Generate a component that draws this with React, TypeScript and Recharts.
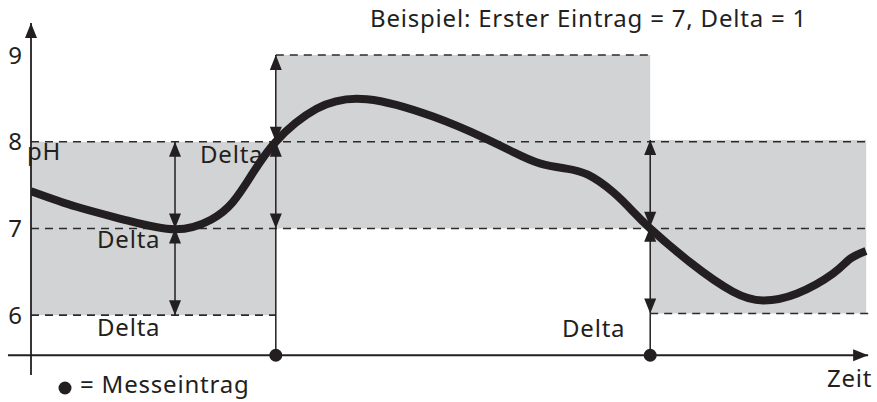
import React from "react";
import { ComposedChart, Line, Scatter, XAxis, YAxis, ReferenceArea, ReferenceLine } from "recharts";

// pH curve (time in arbitrary units)
const curveTime = [0, 1.9, 3.9, 6.0, 7.5, 8.4, 9.2, 10.2, 11.9, 14.0, 16.75, 18.83, 20.1, 21.2, 22.3, 23.2, 24.25, 25.1, 25.8, 27.46, 29.25, 30.5, 31.92, 33.42, 34.13, 34.79];
const curvePh = [7.43, 7.25, 7.1, 6.99, 7.1, 7.3, 7.62, 8.0, 8.38, 8.49, 8.29, 8.05, 7.88, 7.75, 7.69, 7.62, 7.42, 7.19, 7.0, 6.61, 6.27, 6.17, 6.25, 6.48, 6.65, 6.74];

// measurement entries, each opens a band of +/- delta
const entryTime = [0, 10.2, 25.8];
const entryPh = [7, 8, 7.02];
const delta = 1;
const endTime = 34.8;
const arrowTime = [6, 10.2, 25.8];

const phTicks = [6, 7, 8, 9];
const guidePh = [9, 8, 7, 6, 6.02];
const guideFrom = [10.2, 0, 0, 0, 25.8];
const guideTo = [25.9, 35, 35, 10.2, 35];

const X_DOMAIN: [number, number] = [0, 35];
const Y_DOMAIN: [number, number] = [5.31, 9.369];
const AXIS_PH = 5.538;

const INK = "#231f20";
const GREY = "#d1d3d4";
const FONT = "'Noto Sans', sans-serif";

const curveData = curveTime.map((t, i) => ({ t, ph: curvePh[i] }));
const dotData = entryTime.slice(1).map((t) => ({ t, ph: AXIS_PH }));

function head(tx: number, ty: number, fx: number, fy: number) {
  const dx = tx - fx;
  const dy = ty - fy;
  const len = Math.hypot(dx, dy) || 1;
  const ux = dx / len;
  const uy = dy / len;
  const bx = tx - ux * 15;
  const by = ty - uy * 15;
  return `${tx},${ty} ${bx - uy * 6},${by + ux * 6} ${bx + uy * 6},${by - ux * 6}`;
}

const arrowShape = (start: boolean, end: boolean, w = 1.5) => (p: any) => (
  <g>
    <line x1={p.x1} y1={p.y1} x2={p.x2} y2={p.y2} stroke={INK} strokeWidth={w} />
    {start && <polygon points={head(p.x1, p.y1, p.x2, p.y2)} fill={INK} />}
    {end && <polygon points={head(p.x2, p.y2, p.x1, p.y1)} fill={INK} />}
  </g>
);

const txt = { fontFamily: FONT, fontSize: 24, fill: INK, letterSpacing: 0.8 } as const;

export default function App() {
  return (
    <div style={{ position: "absolute", left: 0, top: 0, width: 877, height: 402, background: "#fff" }}>
      <ComposedChart width={877} height={402} data={curveData} margin={{ top: 23, right: 6, bottom: 27, left: 0 }}>
        <XAxis type="number" dataKey="t" domain={X_DOMAIN} hide allowDataOverflow />
        <YAxis
          type="number"
          domain={Y_DOMAIN}
          ticks={phTicks}
          allowDataOverflow
          axisLine={false}
          tickLine={false}
          tickSize={0}
          tickMargin={9}
          width={31}
          tick={{ fontSize: 24, fill: INK, fontFamily: FONT }}
        />
        {entryTime.map((t, i) => (
          <ReferenceArea
            key={`band-${i}`}
            x1={t}
            x2={entryTime[i + 1] ?? endTime}
            y1={entryPh[i] - delta}
            y2={entryPh[i] + delta}
            fill={GREY}
            fillOpacity={1}
            stroke="none"
          />
        ))}
        {guidePh.map((ph, i) => (
          <ReferenceLine
            key={`guide-${i}`}
            segment={[{ x: guideFrom[i], y: ph }, { x: guideTo[i], y: ph }]}
            stroke="#2b2b2b"
            strokeWidth={1.6}
            strokeDasharray="8 6"
          />
        ))}
        {entryPh.map((ph, i) => (
          <ReferenceLine
            key={`up-${i}`}
            segment={[{ x: arrowTime[i], y: ph }, { x: arrowTime[i], y: ph + delta }]}
            shape={arrowShape(true, true)}
          />
        ))}
        {entryPh.map((ph, i) => (
          <ReferenceLine
            key={`down-${i}`}
            segment={[{ x: arrowTime[i], y: ph }, { x: arrowTime[i], y: ph - delta }]}
            shape={arrowShape(true, true)}
          />
        ))}
        {entryTime.slice(1).map((t, i) => (
          <ReferenceLine
            key={`stem-${i}`}
            segment={[{ x: t, y: AXIS_PH }, { x: t, y: entryPh[i + 1] - delta }]}
            shape={arrowShape(false, false)}
          />
        ))}
        <ReferenceLine
          segment={[{ x: 0, y: Y_DOMAIN[0] }, { x: 0, y: Y_DOMAIN[1] }]}
          ifOverflow="visible"
          shape={arrowShape(false, true, 1.8)}
        />
        <ReferenceLine
          segment={[{ x: -0.96, y: AXIS_PH }, { x: 34.88, y: AXIS_PH }]}
          ifOverflow="visible"
          shape={arrowShape(false, true, 1.8)}
        />
        <Line
          type="natural"
          dataKey="ph"
          stroke={INK}
          strokeWidth={8}
          dot={false}
          activeDot={false}
          isAnimationActive={false}
        />
        <Scatter
          data={dotData}
          dataKey="ph"
          isAnimationActive={false}
          shape={(p: any) => <circle cx={p.cx} cy={p.cy} r={6.5} fill={INK} />}
        />
      </ComposedChart>
      <svg width={877} height={402} style={{ position: "absolute", left: 0, top: 0, pointerEvents: "none" }}>
        <text x={370} y={27} {...txt}>Beispiel: Erster Eintrag = 7, Delta = 1</text>
        <text x={27} y={160} {...txt}>pH</text>
        <text x={200} y={163} {...txt}>Delta</text>
        <text x={97} y={248} {...txt}>Delta</text>
        <text x={97} y={336} {...txt}>Delta</text>
        <text x={562} y={337} {...txt}>Delta</text>
        <text x={827} y={387} {...txt}>Zeit</text>
        <circle cx={65} cy={388} r={6.5} fill={INK} />
        <text x={80} y={393} {...txt}>= Messeintrag</text>
      </svg>
    </div>
  );
}
